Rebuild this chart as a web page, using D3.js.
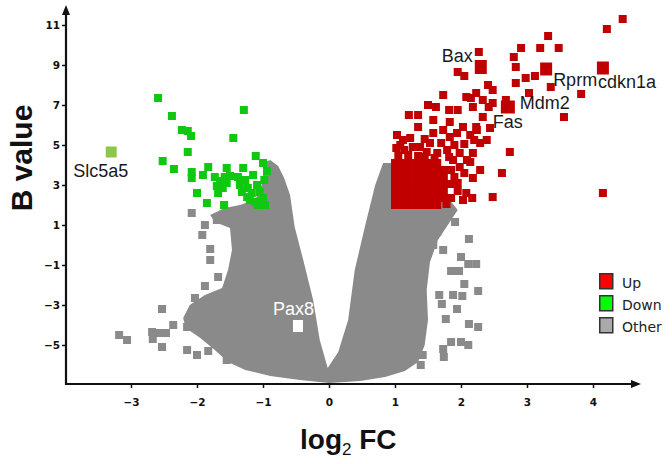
<!DOCTYPE html>
<html><head><meta charset="utf-8">
<script src="https://cdn.jsdelivr.net/npm/d3@7"></script>
<style>html,body{margin:0;padding:0;background:#fff;}svg{display:block;}</style>
</head><body>
<script>
// ---------- data ----------
const xTicks = [-3, -2, -1, 0, 1, 2, 3, 4];
const yTicks = [11, 9, 7, 5, 3, 1, -1, -3, -5];
const legendItems = ["Up", "Down", "Other"];

// outline of the dense "Other" cloud (log2FC, B)
const otherEnvelope = [
  [-0.02,-6.15],[-0.14,-4.75],[-0.24,-2.75],[-0.39,-0.75],[-0.52,0.9],[-0.59,2.5],[-0.68,3.35],[-0.77,3.95],
  [-0.89,4.25],[-0.97,4.15],[-1.02,3.0],[-1.12,2.25],[-1.35,2.0],[-1.58,1.85],[-1.80,1.5],[-1.73,1.15],[-1.50,0.85],
  [-1.47,-0.25],[-1.53,-1.25],[-1.62,-2.15],[-1.88,-2.5],[-2.11,-3.0],[-2.21,-3.65],[-2.17,-4.15],[-1.95,-4.65],
  [-1.73,-5.25],[-1.53,-5.85],[-1.27,-6.25],[-0.89,-6.55],[-0.44,-6.75],[0,-6.9],[0.47,-6.8],[0.85,-6.6],
  [1.15,-6.3],[1.35,-5.85],[1.45,-5.0],[1.50,-3.75],[1.48,-2.25],[1.53,-0.85],[1.65,0.25],[1.83,1.15],[1.95,1.75],
  [1.83,2.25],[1.53,2.5],[1.08,3.25],[0.95,4.1],[0.82,4.1],[0.70,3.0],[0.55,1.0],[0.39,-1.25],[0.29,-3.75],[0.14,-5.35]
];

// scattered "Other" genes outside the dense cloud
const otherPoints = [
  [-3.18,-4.5],[-3.06,-4.75],[-2.53,-3.2],[-2.68,-4.35],[-2.59,-4.4],[-2.47,-4.4],[-2.36,-4.0],[-2.67,-4.7],
  [-2.53,-5.1],[-1.88,-2.05],[-2.03,-2.65],[-1.94,-3.0],[-2.15,-5.25],[-2.0,-5.5],[-1.83,-5.3],[-1.55,-5.75],
  [-1.92,0.5],[-1.80,-0.2],[-1.80,-0.75],[-1.68,-1.6],[-2.08,1.6],[-1.88,1.0],[-1.70,1.25],[-2.15,-4.1],[-1.53,-5.4],
  [2.12,0.3],[2.0,-0.6],[2.11,-0.95],[2.23,-0.95],[1.85,-1.3],[1.97,-1.3],[2.05,-1.95],[2.26,-2.3],[1.88,-2.5],
  [2.02,-2.55],[1.67,-2.5],[1.71,-2.95],[1.94,-3.2],[1.77,-3.7],[2.12,-3.95],[2.26,-4.1],[1.85,-4.85],[2.0,-4.85],
  [2.11,-5.0],[1.73,-5.2],[1.74,-5.6],[1.42,-5.5],[1.39,-6.0],[1.58,0.0],[1.73,-0.25],[1.44,0.05],[1.91,1.15],
  [1.56,1.1],[1.64,0.65]
];

// down-regulated genes
const downPoints = [
  [-2.59,7.35],[-2.38,6.45],[-2.23,5.75],[-2.14,5.7],[-2.09,5.45],[-1.29,6.75],[-1.45,5.35],[-2.14,4.65],
  [-2.52,4.2],[-2.35,3.8],[-2.08,3.65],[-2.08,3.35],[-1.91,3.5],[-1.83,3.9],[-1.55,3.85],[-1.11,4.45],[-1.0,4.1],
  [-1.30,3.85],[-1.15,3.5],[-2.0,2.6],[-1.85,2.1],[-1.59,2.0],
  [-1.73,3.4],[-1.65,3.2],[-1.58,3.4],[-1.70,2.95],[-1.61,2.85],[-1.68,2.6],[-1.55,3.1],[-1.50,3.45],
  [-1.38,3.4],[-1.35,3.0],[-1.27,3.25],[-1.23,2.85],[-1.17,2.6],[-1.09,3.0],[-1.05,2.65],[-1.0,2.35],
  [-1.12,2.15],[-1.24,2.4],[-1.08,2.0],[-0.98,3.25],[-0.94,3.7],[-1.20,2.25],[-0.97,2.0],[-1.32,2.65]
];

// up-regulated genes
const upPoints = [
  // dense block
  [1.00,4.10],[1.11,4.10],[1.21,4.10],[1.32,4.10],[1.42,4.10],[1.53,4.10],[1.64,4.10],
  [1.00,3.75],[1.11,3.75],[1.21,3.75],[1.32,3.75],[1.42,3.75],[1.53,3.75],[1.64,3.75],[1.74,3.75],[1.85,3.75],
  [1.00,3.40],[1.11,3.40],[1.21,3.40],[1.32,3.40],[1.42,3.40],[1.53,3.40],[1.64,3.40],[1.74,3.40],
  [1.00,3.05],[1.11,3.05],[1.21,3.05],[1.32,3.05],[1.42,3.05],[1.53,3.05],[1.64,3.05],[1.74,3.05],[1.85,3.05],
  [1.00,2.70],[1.11,2.70],[1.21,2.70],[1.32,2.70],[1.42,2.70],[1.53,2.70],[1.64,2.70],[1.74,2.70],[1.95,2.70],
  [1.00,2.35],[1.11,2.35],[1.21,2.35],[1.32,2.35],[1.42,2.35],[1.53,2.35],[1.64,2.35],[1.74,2.35],[1.85,2.35],
  [1.00,2.00],[1.11,2.00],[1.21,2.00],[1.32,2.00],[1.42,2.00],[1.53,2.00],[1.64,2.00],
  // ragged edges of block
  [1.90,3.40],[1.95,3.10],[2.05,3.60],[1.82,4.40],[1.05,4.45],[1.20,4.50],[1.45,4.40],[1.60,4.35],
  [1.08,5.00],[1.45,5.30],[1.70,5.10],[1.90,5.00],[2.05,5.05],[2.20,5.25],[1.78,2.05],
  // above block
  [1.03,5.5],[1.12,5.25],[1.02,4.85],[1.14,4.75],[1.23,5.35],[1.27,4.9],[1.38,4.9],[1.35,4.45],[1.48,4.65],
  [1.53,5.1],[1.58,5.6],[1.64,4.6],[1.73,5.75],[1.79,4.75],[1.83,5.4],[1.88,4.25],[1.94,5.6],[1.98,4.6],
  [2.03,5.9],[2.09,4.25],[2.14,5.5],[2.18,4.6],[2.24,5.75],[2.29,5.1],[2.39,5.25],[2.44,5.85],[1.98,3.9],
  [2.14,4.15],[2.29,3.75],[2.18,3.35],[2.62,3.6],[2.74,4.65],[2.08,2.6],[2.03,2.25],[2.17,2.35],[2.48,2.4],
  [4.15,2.6],
  // upper spread
  [4.45,11.3],[4.21,10.8],[3.32,10.45],[2.91,9.85],[3.20,9.85],[3.48,9.85],[2.27,9.65],[2.80,9.4],
  [1.95,8.65],[2.05,8.45],[2.83,8.9],[2.98,8.35],[3.12,8.45],[2.41,8.0],[2.48,7.75],[2.83,8.1],[3.36,7.9],
  [3.03,7.6],[3.82,7.55],[1.73,7.5],[2.08,7.4],[2.23,7.6],[2.33,7.25],[2.68,7.25],[1.50,7.0],[1.62,6.9],
  [1.82,6.75],[1.95,6.75],[2.42,6.9],[1.21,6.5],[1.35,6.5],[2.33,6.4],[3.56,6.4],[1.35,5.9],[2.23,5.9],
  [2.18,6.9],[2.15,7.35],[2.48,7.1],[1.58,6.25],[1.83,6.15]
];

// labelled genes
const labelGenes = ["Bax", "Rprm", "cdkn1a", "Mdm2", "Fas", "Slc5a5", "Pax8"];
const labelFC    = [2.30, 3.29, 4.15, 2.71, 2.33, -3.30, -0.47];
const labelB     = [8.9, 8.8, 8.85, 6.9, 6.4, 4.65, -4.05];

// ---------- drawing ----------
const W = 672, H = 464;
const svg = d3.select("body").append("svg").attr("width", W).attr("height", H);

const x = d3.scaleLinear().domain([-4, 5]).range([65, 659]);
const y = d3.scaleLinear().domain([-7, 12]).range([385, 5]);

const C = {up: "#c00000", down: "#10c810", other: "#8a8a8a"};
const S = 8;

// dense cloud
svg.append("path")
  .attr("d", d3.line().x(d => x(d[0])).y(d => y(d[1])).curve(d3.curveLinearClosed)(otherEnvelope))
  .attr("fill", C.other);

function squares(data, color, size) {
  svg.append("g").selectAll("rect").data(data).join("rect")
    .attr("x", d => x(d[0]) - size / 2).attr("y", d => y(d[1]) - size / 2)
    .attr("width", size).attr("height", size).attr("fill", color);
}
squares(otherPoints, C.other, S);
squares(downPoints, C.down, S);
squares(upPoints, C.up, S);

// highlighted genes
const hl = {
  Bax:    {fill: C.up, w: 12, h: 14, dx: -39, dy: -5, color: "#1a1a1a"},
  Rprm:   {fill: C.up, w: 12, h: 13, dx: 7, dy: 17, color: "#1a1a1a"},
  cdkn1a: {fill: C.up, w: 12, h: 13, dx: -5, dy: 20, color: "#1a1a1a", halo: true},
  Mdm2:   {fill: C.up, w: 14, h: 13, dx: 12, dy: 2, color: "#1a1a1a"},
  Fas:    {fill: null, dx: 10, dy: 11, color: "#1a1a1a"},
  Slc5a5: {fill: "#8cc64a", w: 11, h: 11, dx: -38, dy: 25, color: "#1a1a1a"},
  Pax8:   {fill: "#ffffff", w: 10, h: 12, dx: -25, dy: -11, color: "#ffffff"}
};
const labels = labelGenes.map((g, i) => ({g, fc: labelFC[i], b: labelB[i], s: hl[g]}));
svg.append("g").selectAll("rect").data(labels.filter(d => d.s.fill)).join("rect")
  .attr("x", d => x(d.fc) - d.s.w / 2).attr("y", d => y(d.b) - d.s.h / 2)
  .attr("width", d => d.s.w).attr("height", d => d.s.h).attr("fill", d => d.s.fill);
svg.append("g").selectAll("text").data(labels).join("text")
  .attr("x", d => x(d.fc) + d.s.dx).attr("y", d => y(d.b) + d.s.dy)
  .attr("font-family", "Liberation Sans, Arial, sans-serif").attr("font-size", 18)
  .attr("fill", d => d.s.color)
  .attr("stroke", d => d.s.halo ? "#fff" : null).attr("stroke-width", d => d.s.halo ? 3 : null)
  .attr("paint-order", "stroke")
  .text(d => d.g);

// axes
const axCol = "#111";
const yAxis = d3.axisLeft(y).tickValues(yTicks).tickSize(4).tickPadding(2);
const gy = svg.append("g").attr("transform", `translate(${x(-4) + 1},0)`).call(yAxis);
const xAxis = d3.axisBottom(x).tickValues(xTicks).tickSize(4).tickPadding(11);
const gx = svg.append("g").attr("transform", `translate(0,${y(-6.95)})`).call(xAxis);
[gx, gy].forEach(g => {
  g.select(".domain").remove();
  g.selectAll("line").attr("stroke", axCol).attr("stroke-width", 1.5);
  g.selectAll("text").attr("font-family", "DejaVu Sans, Verdana, sans-serif")
    .attr("font-weight", "bold").attr("font-size", 10.5).attr("fill", "#111");
});
const ax0 = x(-4) + 1, ay0 = y(-6.95);
svg.append("line").attr("x1", ax0).attr("y1", ay0 + 1).attr("x2", ax0).attr("y2", 12)
  .attr("stroke", axCol).attr("stroke-width", 2.2);
svg.append("line").attr("x1", ax0 - 1).attr("y1", ay0).attr("x2", 634).attr("y2", ay0)
  .attr("stroke", axCol).attr("stroke-width", 2.2);
svg.append("path").attr("d", `M${ax0 - 4},15L${ax0 + 4},15L${ax0},5Z`).attr("fill", axCol);
svg.append("path").attr("d", `M631,${ay0 - 4}L631,${ay0 + 4}L641,${ay0}Z`).attr("fill", axCol);

// axis titles
svg.append("text").attr("transform", "translate(32,158) rotate(-90)")
  .attr("text-anchor", "middle").attr("font-family", "Liberation Sans, Arial, sans-serif")
  .attr("font-weight", "bold").attr("font-size", 30).attr("fill", "#111").text("B value");
const xt = svg.append("text").attr("x", 300).attr("y", 449)
  .attr("font-family", "Liberation Sans, Arial, sans-serif")
  .attr("font-weight", "bold").attr("font-size", 28).attr("fill", "#111");
xt.append("tspan").text("log");
xt.append("tspan").attr("font-size", 17).attr("font-weight", "normal").attr("dy", 6).text("2");
xt.append("tspan").attr("dy", -6).text(" FC");

// legend
const legColors = ["#ff0000", "#00ff00", "#aaaaaa"];
const lg = svg.append("g").selectAll("g").data(legendItems).join("g")
  .attr("transform", (d, i) => `translate(599,${273 + i * 22})`);
lg.append("rect").attr("x", 0.75).attr("y", 0.75).attr("width", 13).attr("height", 15)
  .attr("fill", (d, i) => legColors[i]).attr("stroke", "#333").attr("stroke-width", 1.5);
lg.append("text").attr("x", 23).attr("y", 15)
  .attr("font-family", "DejaVu Sans, Verdana, sans-serif").attr("font-size", 14).attr("fill", "#222")
  .text(d => d);
</script>
</body></html>
